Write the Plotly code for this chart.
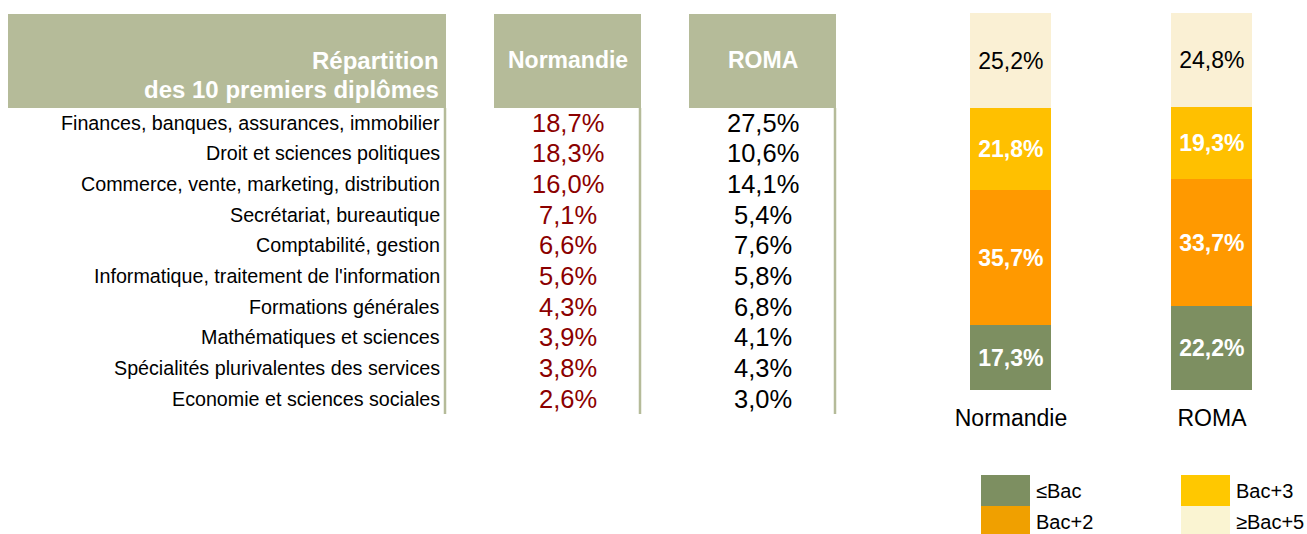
import plotly.graph_objects as go

W, H = 1307, 534

# ---------------- data ----------------
diplomes = [
    "Finances, banques, assurances, immobilier",
    "Droit et sciences politiques",
    "Commerce, vente, marketing, distribution",
    "Secrétariat, bureautique",
    "Comptabilité, gestion",
    "Informatique, traitement de l'information",
    "Formations générales",
    "Mathématiques et sciences",
    "Spécialités plurivalentes des services",
    "Economie et sciences sociales",
]
normandie_pct = [18.7, 18.3, 16.0, 7.1, 6.6, 5.6, 4.3, 3.9, 3.8, 2.6]
roma_pct = [27.5, 10.6, 14.1, 5.4, 7.6, 5.8, 6.8, 4.1, 4.3, 3.0]

territoires = ["Normandie", "ROMA"]
niveaux = ["≤Bac", "Bac+2", "Bac+3", "≥Bac+5"]
pct_le_bac = [17.3, 22.2]
pct_bac2 = [35.7, 33.7]
pct_bac3 = [21.8, 19.3]
pct_ge_bac5 = [25.2, 24.8]

header_title = ["Répartition", "des 10 premiers diplômes"]

# ---------------- style ----------------
FONT = "Liberation Sans, Arial, sans-serif"
HEAD = "#B5BB99"
COLORS = ["#7D8F61", "#FF9900", "#FFC000", "#FAF0D4"]
LEG_COLORS = ["#7D8F61", "#F0A000", "#FFC800", "#FAF4D2"]
TEXT_COLORS = ["white", "white", "white", "black"]
TEXT_WEIGHTS = ["bold", "bold", "bold", "normal"]


def fx(x):
    return x / W


def fy(y):
    return 1 - y / H


def fmt(v):
    return f"{v:.1f}".replace(".", ",") + "%"


fig = go.Figure()

series = [pct_le_bac, pct_bac2, pct_bac3, pct_ge_bac5]
for name, vals, col, tc, tw in zip(niveaux, series, COLORS, TEXT_COLORS, TEXT_WEIGHTS):
    fig.add_trace(go.Bar(
        x=territoires, y=vals, name=name,
        marker=dict(color=col, line=dict(width=0)),
        width=0.403,
        text=[fmt(v) for v in vals], textposition="inside",
        insidetextanchor="middle", textangle=0, constraintext="none",
        textfont=dict(family=FONT, size=23, color=tc, weight=tw),
        hoverinfo="skip", showlegend=False,
    ))

shapes = []
annotations = []

# header boxes
for (x0, x1) in [(8, 446), (494, 641), (689, 836)]:
    shapes.append(dict(type="rect", xref="paper", yref="paper",
                       x0=fx(x0), x1=fx(x1), y0=fy(108), y1=fy(14),
                       fillcolor=HEAD, line=dict(width=0), layer="below"))
# vertical lines
for xl in [445, 640, 835]:
    shapes.append(dict(type="line", xref="paper", yref="paper",
                       x0=fx(xl), x1=fx(xl), y0=fy(108), y1=fy(414),
                       line=dict(color=HEAD, width=2.5)))

# header texts
for i, t in enumerate(header_title):
    annotations.append(dict(text=f"<b>{t}</b>", xref="paper", yref="paper",
                            x=fx(441), y=fy(60 + 30 * i), xanchor="right", yanchor="middle",
                            showarrow=False, font=dict(family=FONT, size=24, color="white")))
for t, xc in zip(territoires, [567.5, 762.5]):
    annotations.append(dict(text=f"<b>{t}</b>", xref="paper", yref="paper",
                            x=fx(xc), y=fy(60), xanchor="center", yanchor="middle",
                            showarrow=False, font=dict(family=FONT, size=23, color="white")))

# table rows
row0, dy = 122.5, 30.67
for i, (lab, vn, vr) in enumerate(zip(diplomes, normandie_pct, roma_pct)):
    yc = row0 + dy * i
    annotations.append(dict(text=lab, xref="paper", yref="paper",
                            x=fx(442), y=fy(yc), xanchor="right", yanchor="middle",
                            showarrow=False, font=dict(family=FONT, size=19.7, color="black")))
    annotations.append(dict(text=fmt(vn), xref="paper", yref="paper",
                            x=fx(568), y=fy(yc), xanchor="center", yanchor="middle",
                            showarrow=False, font=dict(family=FONT, size=25.5, color="#8B0000")))
    annotations.append(dict(text=fmt(vr), xref="paper", yref="paper",
                            x=fx(762.5), y=fy(yc), xanchor="center", yanchor="middle",
                            showarrow=False, font=dict(family=FONT, size=25.5, color="black")))

# legend (manual, 2 columns)
leg_pos = [(981, 475), (981, 506), (1181, 475), (1181, 506)]
for k, (lx, ly) in enumerate(leg_pos):
    shapes.append(dict(type="rect", xref="paper", yref="paper",
                       x0=fx(lx), x1=fx(lx + 49), y0=fy(ly + 31), y1=fy(ly),
                       fillcolor=LEG_COLORS[k], line=dict(width=0)))
    annotations.append(dict(text=niveaux[k], xref="paper", yref="paper",
                            x=fx(lx + 53), y=fy(ly + 16), xanchor="left", yanchor="middle",
                            showarrow=False, font=dict(family=FONT, size=20, color="black")))

# axes for bar chart
xl0 = 1011 - 0.6 * 201
xl1 = 1212 + 0.45 * 201
fig.update_layout(
    width=W, height=H,
    margin=dict(l=0, r=0, t=0, b=0),
    paper_bgcolor="white", plot_bgcolor="white",
    barmode="stack", bargap=0,
    shapes=shapes, annotations=annotations,
    font=dict(family=FONT),
    xaxis=dict(domain=[fx(xl0), fx(xl1)], range=[-0.6, 1.45],
               showgrid=False, zeroline=False, showline=False, ticks="",
               ticklabelstandoff=12,
               tickfont=dict(family=FONT, size=23, color="black"),
               fixedrange=True),
    yaxis=dict(domain=[1 - 390 / H, 1 - 13 / H], range=[0, 100],
               showgrid=False, zeroline=False, showline=False, showticklabels=False,
               fixedrange=True),
    showlegend=False,
)

fig.write_html("out.html", config={"displayModeBar": False},
               post_script="document.body.style.margin='0';document.body.style.overflow='hidden';")
